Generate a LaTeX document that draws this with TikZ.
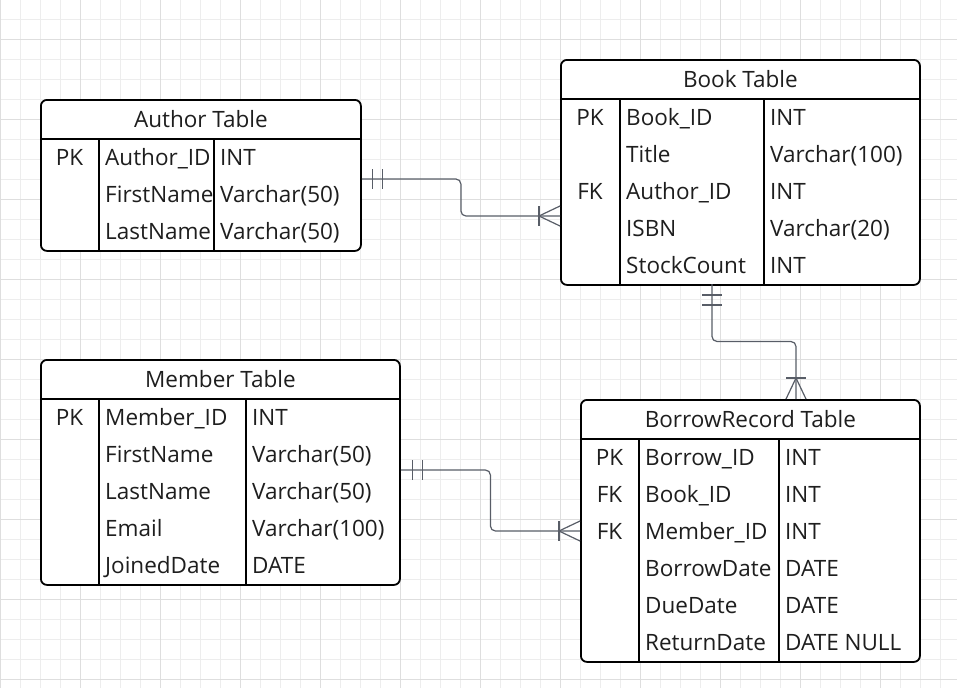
\documentclass[tikz,border=0pt]{standalone}
\usepackage{fontspec}
\setmainfont{Open Sans}
\usetikzlibrary{calc}

\definecolor{inkgray}{RGB}{30,30,30}
\definecolor{relgray}{RGB}{88,93,103}
\definecolor{gridminor}{RGB}{237,237,237}
\definecolor{gridmajor}{RGB}{222,222,222}

\begin{document}
\begin{tikzpicture}[x=1pt,y=-1pt,
      tbl/.style={draw=black, line width=1.8pt, rounded corners=6pt, fill=white, inner sep=0pt, anchor=north west},
      rule/.style={black, line width=1.6pt},
      title/.style={font=\fontsize{22.5}{26}\selectfont, text=inkgray, inner sep=0pt, anchor=base},
      cell/.style={font=\fontsize{22.5}{26}\selectfont, text=inkgray, inner sep=0pt, anchor=base west},
      key/.style={cell, anchor=base},
      rel/.style={relgray, line width=1.2pt, rounded corners=5pt},
      tick/.style={relgray, line width=1.2pt}
   ]
   \useasboundingbox (0,0) rectangle (957,688);

   % background grid
   \foreach \x in {0,20,...,940} \draw[gridminor, line width=1pt] (\x,0) -- (\x,688);
   \foreach \y in {19,39,...,679} \draw[gridminor, line width=1pt] (0,\y) -- (957,\y);
   \foreach \x in {0,80,...,880} \draw[gridmajor, line width=1pt] (\x,0) -- (\x,688);
   \foreach \y in {39,119,...,679} \draw[gridmajor, line width=1pt] (0,\y) -- (957,\y);

   % Author Table
   \node[tbl, minimum width=320pt, minimum height=151pt] (author) at (40,99) {};
   \node[title] (author-title) at ($(author.north)+(0,28)$) {Author Table};
   \draw[rule] ($(author.north west)+(0,40)$) -- ($(author.north east)+(0,40)$);
   \draw[rule] ($(author.north west)+(59,40)$) -- ($(author.south west)+(59,0)$);
   \draw[rule] ($(author.north west)+(174,40)$) -- ($(author.south west)+(174,0)$);
   \foreach \k/\n/\t [count=\i] in {PK/Author\_ID/INT, /FirstName/Varchar(50), /LastName/Varchar(50)} {
      \node[key]  (author-key-\i)  at (69.5, 128+37*\i) {\k};
      \node[cell] (author-name-\i) at (105, 128+37*\i) {\n};
      \node[cell] (author-type-\i) at (220, 128+37*\i) {\t};
   }

   % Book Table
   \node[tbl, minimum width=359pt, minimum height=225pt] (book) at (560,59) {};
   \node[title] (book-title) at ($(book.north)+(0,28)$) {Book Table};
   \draw[rule] ($(book.north west)+(0,40)$) -- ($(book.north east)+(0,40)$);
   \draw[rule] ($(book.north west)+(60,40)$) -- ($(book.south west)+(60,0)$);
   \draw[rule] ($(book.north west)+(204,40)$) -- ($(book.south west)+(204,0)$);
   \foreach \k/\n/\t [count=\i] in {PK/Book\_ID/INT, /Title/Varchar(100), FK/Author\_ID/INT, /ISBN/Varchar(20), /StockCount/INT} {
      \node[key]  (book-key-\i)  at (590, 88+37*\i) {\k};
      \node[cell] (book-name-\i) at (626, 88+37*\i) {\n};
      \node[cell] (book-type-\i) at (770, 88+37*\i) {\t};
   }

   % Member Table
   \node[tbl, minimum width=359pt, minimum height=225pt] (member) at (40,359) {};
   \node[title] (member-title) at ($(member.north)+(0,28)$) {Member Table};
   \draw[rule] ($(member.north west)+(0,40)$) -- ($(member.north east)+(0,40)$);
   \draw[rule] ($(member.north west)+(59,40)$) -- ($(member.south west)+(59,0)$);
   \draw[rule] ($(member.north west)+(206,40)$) -- ($(member.south west)+(206,0)$);
   \foreach \k/\n/\t [count=\i] in {PK/Member\_ID/INT, /FirstName/Varchar(50), /LastName/Varchar(50), /Email/Varchar(100), /JoinedDate/DATE} {
      \node[key]  (member-key-\i)  at (69.5, 388+37*\i) {\k};
      \node[cell] (member-name-\i) at (105, 388+37*\i) {\n};
      \node[cell] (member-type-\i) at (252, 388+37*\i) {\t};
   }

   % BorrowRecord Table
   \node[tbl, minimum width=339pt, minimum height=262pt] (borrow) at (580,399) {};
   \node[title] (borrow-title) at ($(borrow.north)+(0,28)$) {BorrowRecord Table};
   \draw[rule] ($(borrow.north west)+(0,40)$) -- ($(borrow.north east)+(0,40)$);
   \draw[rule] ($(borrow.north west)+(59,40)$) -- ($(borrow.south west)+(59,0)$);
   \draw[rule] ($(borrow.north west)+(199,40)$) -- ($(borrow.south west)+(199,0)$);
   \foreach \k/\n/\t [count=\i] in {PK/Borrow\_ID/INT, FK/Book\_ID/INT, FK/Member\_ID/INT, /BorrowDate/DATE, /DueDate/DATE, /ReturnDate/DATE NULL} {
      \node[key]  (borrow-key-\i)  at (609.5, 428+37*\i) {\k};
      \node[cell] (borrow-name-\i) at (645, 428+37*\i) {\n};
      \node[cell] (borrow-type-\i) at (785, 428+37*\i) {\t};
   }

   % relation end points
   \coordinate (author-out) at (author.east |- 0,179);
   \coordinate (book-in) at (book.west |- 0,216);
   \coordinate (book-out) at (712,284);
   \coordinate (borrow-top) at (796,399);
   \coordinate (member-out) at (member.east |- 0,470);
   \coordinate (borrow-in) at (borrow.west |- 0,531);

   % relations
   \draw[rel] (author-out) -| ($(author-out)!.5!(book-in)$) |- (book-in);
   \draw[rel] (book-out) |- ($(book-out)!.5!(borrow-top)$) -| (borrow-top);
   \draw[rel] (member-out) -| ($(member-out)!.5!(borrow-in)$) |- (borrow-in);

   % one and only one
   \draw[tick] ($(author-out)+(11,-10)$) -- ++(0,20);
   \draw[tick] ($(author-out)+(21,-10)$) -- ++(0,20);
   \draw[tick] ($(book-out)+(-10,11)$) -- ++(20,0);
   \draw[tick] ($(book-out)+(-10,21)$) -- ++(20,0);
   \draw[tick] ($(member-out)+(12,-10)$) -- ++(0,20);
   \draw[tick] ($(member-out)+(22,-10)$) -- ++(0,20);

   % many
   \draw[tick] ($(book-in)+(-21,-10)$) -- ++(0,20);
   \draw[tick] ($(book-in)+(0,-10)$) -- ($(book-in)+(-21,0)$) -- ($(book-in)+(0,10)$);
   \draw[tick] ($(borrow-top)+(-10,-21)$) -- ++(20,0);
   \draw[tick] ($(borrow-top)+(-10,0)$) -- ($(borrow-top)+(0,-21)$) -- ($(borrow-top)+(10,0)$);
   \draw[tick] ($(borrow-in)+(-21,-10)$) -- ++(0,20);
   \draw[tick] ($(borrow-in)+(0,-10)$) -- ($(borrow-in)+(-21,0)$) -- ($(borrow-in)+(0,10)$);
\end{tikzpicture}
\end{document}
